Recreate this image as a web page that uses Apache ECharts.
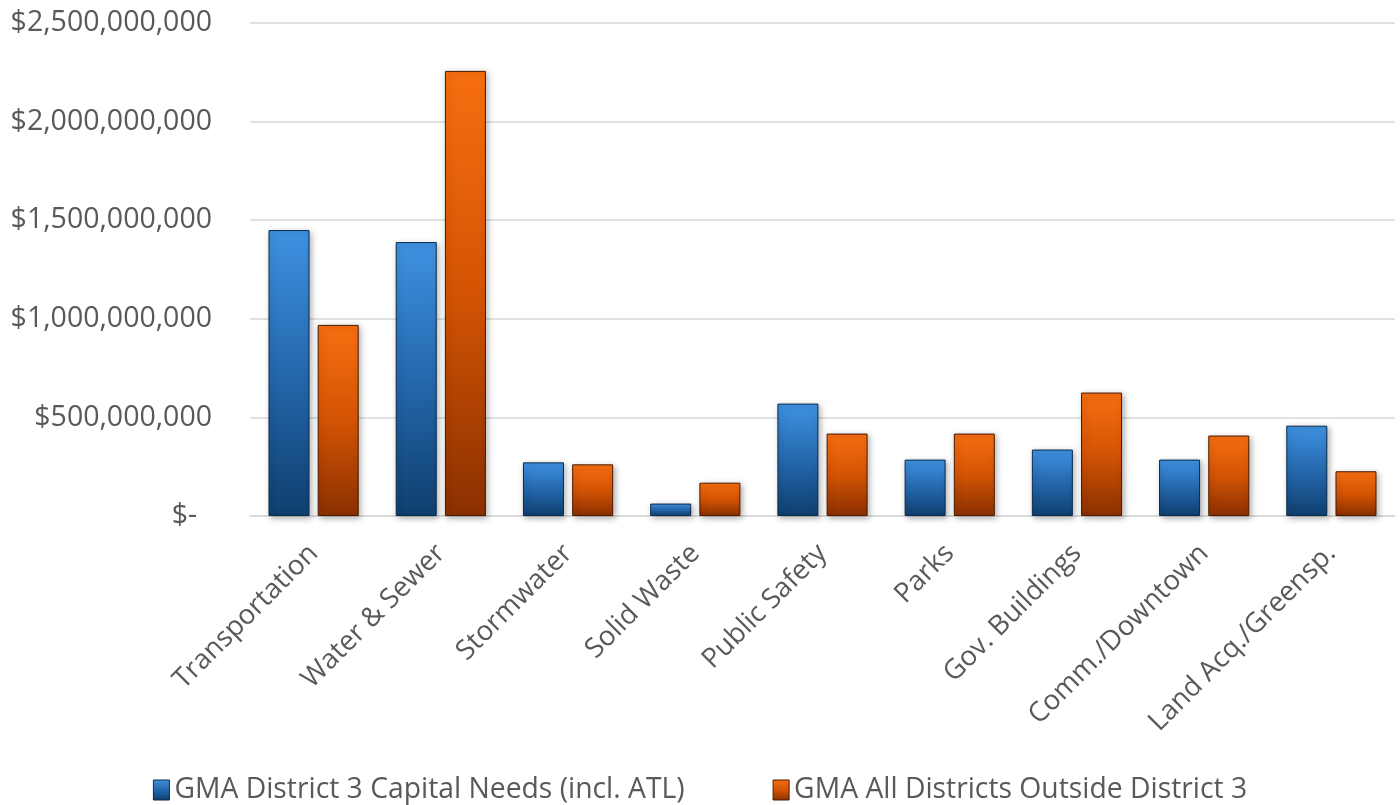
<!DOCTYPE html>
<html>
<head>
<meta charset="utf-8">
<script src="https://cdn.jsdelivr.net/npm/echarts@6/dist/echarts.min.js"></script>
<style>html,body{margin:0;padding:0;background:#fff;}#c{width:1400px;height:805px;}</style>
</head>
<body>
<div id="c"></div>
<script>
const categories = ["Transportation","Water & Sewer","Stormwater","Solid Waste","Public Safety","Parks","Gov. Buildings","Comm./Downtown","Land Acq./Greensp."];
const seriesNames = ["GMA District 3 Capital Needs (incl. ATL)","GMA All Districts Outside District 3"];
const district3 = [1450000000,1389000000,272000000,63000000,570000000,286000000,337000000,286000000,458000000];
const outside3 = [969000000,2257000000,262000000,169000000,418000000,418000000,626000000,408000000,227000000];
const yTicks = {min:0, max:2500000000, interval:500000000};

function fmt(v){
  if(v===0) return "$-  ";
  return "$" + String(Math.round(v)).replace(/\B(?=(\d{3})+(?!\d))/g, ",");
}
const font = "'Open Sans', sans-serif";
const blueGrad = new echarts.graphic.LinearGradient(0,0,0,1,[{offset:0,color:'#3f92e2'},{offset:0.5,color:'#2468ad'},{offset:1,color:'#0f3f6e'}]);
const orangeGrad = new echarts.graphic.LinearGradient(0,0,0,1,[{offset:0,color:'#f76e10'},{offset:0.5,color:'#d45404'},{offset:1,color:'#8a3000'}]);

const chart = echarts.init(document.getElementById('c'));
chart.setOption({
  animation:false,
  backgroundColor:'#fff',
  grid:{left:250,right:5,top:23,bottom:289,containLabel:false},
  legend:{
    top:771, left:'center', itemWidth:16, itemHeight:20, itemGap:88, icon:'rect',
    textStyle:{fontFamily:font,fontSize:28.3,color:'#595959'},
    data:[{name:seriesNames[0],itemStyle:{color:blueGrad,borderColor:'#0a2a4a',borderWidth:1}},{name:seriesNames[1],itemStyle:{color:orangeGrad,borderColor:'#4a1a00',borderWidth:1}}]
  },
  xAxis:{
    type:'category', data:categories,
    axisLine:{lineStyle:{color:'#d9d9d9',width:1.5}},
    axisTick:{show:false},
    axisLabel:{rotate:45,interval:0,fontFamily:font,fontSize:27.5,color:'#595959',margin:33}
  },
  yAxis:{
    type:'value', min:yTicks.min, max:yTicks.max, interval:yTicks.interval,
    axisLine:{show:false}, axisTick:{show:false},
    splitLine:{lineStyle:{color:'#d9d9d9',width:1.5}},
    axisLabel:{formatter:fmt,fontFamily:font,fontSize:28.5,color:'#595959',margin:38}
  },
  series:[
    {name:seriesNames[0],type:'bar',data:district3,barWidth:41,barGap:'20%',
     itemStyle:{color:blueGrad,borderColor:'#0a2a4a',borderWidth:1,shadowBlur:6,shadowColor:'rgba(0,0,0,0.3)',shadowOffsetX:2,shadowOffsetY:2}},
    {name:seriesNames[1],type:'bar',data:outside3,barWidth:41,barGap:'20%',
     itemStyle:{color:orangeGrad,borderColor:'#4a1a00',borderWidth:1,shadowBlur:6,shadowColor:'rgba(0,0,0,0.3)',shadowOffsetX:2,shadowOffsetY:2}}
  ]
});
</script>
</body>
</html>
